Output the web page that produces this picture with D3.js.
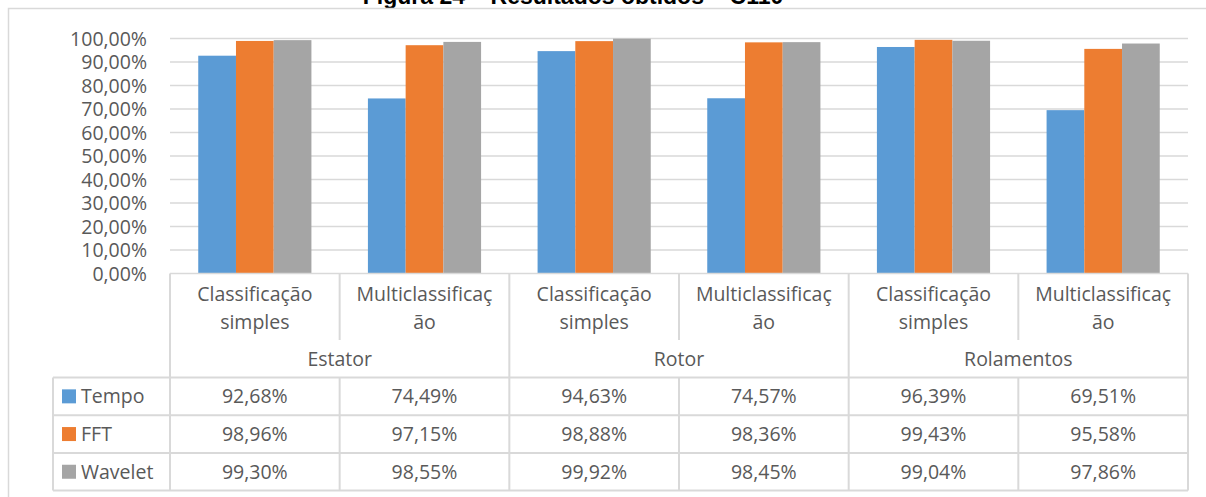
<!DOCTYPE html>
<html>
<head>
<meta charset="utf-8">
<script src="https://cdn.jsdelivr.net/npm/d3@7"></script>
<style>
  html, body { margin: 0; padding: 0; background: #fff; overflow: hidden; }
  svg { display: block; }
  text { font-family: "Open Sans", sans-serif; fill: #595959; }
</style>
</head>
<body>
<svg id="chart" width="1206" height="497"></svg>
<script>
// Accuracy (%) per classification task and feature-extraction method
const categories = ["Classificação simples", "Multiclassificação", "Classificação simples", "Multiclassificação", "Classificação simples", "Multiclassificação"];
const categoryLines = [["Classificação", "simples"], ["Multiclassificaç", "ão"], ["Classificação", "simples"], ["Multiclassificaç", "ão"], ["Classificação", "simples"], ["Multiclassificaç", "ão"]];
const groups = ["Estator", "Rotor", "Rolamentos"];
const seriesNames = ["Tempo", "FFT", "Wavelet"];
const seriesColors = ["#5B9BD5", "#ED7D31", "#A5A5A5"];
const tempo = [92.68, 74.49, 94.63, 74.57, 96.39, 69.51];
const fft = [98.96, 97.15, 98.88, 98.36, 99.43, 95.58];
const wavelet = [99.30, 98.55, 99.92, 98.45, 99.04, 97.86];
const yTicks = [0, 10, 20, 30, 40, 50, 60, 70, 80, 90, 100];
const title = "Figura 24 – Resultados obtidos – C110";

const series = [tempo, fft, wavelet];
const ptBR = d3.formatLocale({ decimal: ",", thousands: ".", grouping: [3], currency: ["", ""] });
const pct = v => ptBR.format(".2f")(v) + "%";

const svg = d3.select("#chart");
const gridColor = "#d9d9d9";

// plot geometry
const plotLeft = 170, plotRight = 1188, plotTop = 38.5, plotBottom = 273.5;
const tableLeft = 53, rowH = 37.7;
const labelRowBottom = 340, dataTop = 377.5;

const x = d3.scaleBand().domain(d3.range(categories.length)).range([plotLeft, plotRight]).padding(0);
const xs = d3.scaleBand().domain(d3.range(series.length))
  .range([x.bandwidth() * 0.1665, x.bandwidth() * 0.8335]).padding(0);
const y = d3.scaleLinear().domain([0, 100]).range([plotBottom, plotTop]);

// title (sits above the chart frame)
svg.append("text")
  .attr("x", 573).attr("y", 4)
  .attr("text-anchor", "middle")
  .style("font-family", "'Liberation Sans', Arial, sans-serif")
  .style("font-weight", "bold")
  .style("font-size", "23px")
  .style("fill", "#000")
  .text(title);

// chart frame
svg.append("rect")
  .attr("x", 8.5).attr("y", 8.5).attr("width", 1230).attr("height", 520)
  .attr("fill", "none").attr("stroke", gridColor).attr("stroke-width", 1.5);

// gridlines and y tick labels
const yAxis = d3.axisLeft(y).tickValues(yTicks).tickSize(0).tickFormat(pct);
const yg = svg.append("g").attr("transform", `translate(${plotLeft - 23},0)`).call(yAxis);
yg.select(".domain").remove();
yg.selectAll("text").attr("x", 0).attr("dy", "0.34em")
  .style("font-family", "'Open Sans', sans-serif").style("font-size", "19.5px").attr("fill", "#595959");

svg.append("g").selectAll("line").data(yTicks.filter(t => t > 0)).join("line")
  .attr("x1", plotLeft).attr("x2", plotRight)
  .attr("y1", d => y(d)).attr("y2", d => y(d))
  .attr("stroke", gridColor).attr("stroke-width", 1.5);

// bars
const barG = svg.append("g");
series.forEach((vals, si) => {
  barG.selectAll(null).data(vals).join("rect")
    .attr("x", (d, i) => x(i) + xs(si))
    .attr("width", xs.bandwidth())
    .attr("y", d => y(d))
    .attr("height", d => y(0) - y(d))
    .attr("fill", seriesColors[si]);
});

// category axis line
svg.append("line").attr("x1", plotLeft).attr("x2", plotRight).attr("y1", plotBottom).attr("y2", plotBottom)
  .attr("stroke", gridColor).attr("stroke-width", 1.5);

// table lines
const tg = svg.append("g").attr("stroke", gridColor).attr("stroke-width", 2);
const tableBottom = dataTop + rowH * 3;
d3.range(categories.length + 1).forEach(i => {
  const xx = i < categories.length ? x(i) : plotRight;
  const groupEdge = i % 2 === 0;
  tg.append("line").attr("x1", xx).attr("x2", xx)
    .attr("y1", plotBottom).attr("y2", groupEdge ? tableBottom : labelRowBottom);
  if (!groupEdge) {
    tg.append("line").attr("x1", xx).attr("x2", xx).attr("y1", dataTop).attr("y2", tableBottom);
  }
});
tg.append("line").attr("x1", tableLeft).attr("x2", tableLeft).attr("y1", dataTop).attr("y2", tableBottom);
d3.range(4).forEach(r => {
  const yy = dataTop + r * rowH;
  tg.append("line").attr("x1", tableLeft).attr("x2", plotRight).attr("y1", yy).attr("y2", yy);
});

// category labels
const fs = "19.5px";
categoryLines.forEach((lines, i) => {
  const t = svg.append("text").attr("text-anchor", "middle").style("font-size", fs);
  lines.forEach((ln, k) => {
    t.append("tspan").attr("x", x(i) + x.bandwidth() / 2).attr("y", 294 + k * 28.5).attr("dy", "0.35em").text(ln);
  });
});
// group labels
groups.forEach((g, gi) => {
  svg.append("text").attr("text-anchor", "middle").style("font-size", fs)
    .attr("x", x(gi * 2) + x.bandwidth()).attr("y", 359).attr("dy", "0.35em").text(g);
});

// data rows with legend keys
series.forEach((vals, si) => {
  const cy = dataTop + rowH * si + rowH / 2;
  svg.append("rect").attr("x", 62).attr("y", cy - 7).attr("width", 14).attr("height", 14)
    .attr("fill", seriesColors[si]);
  svg.append("text").attr("x", 81).attr("y", cy).attr("dy", "0.35em").style("font-size", fs)
    .text(seriesNames[si]);
  vals.forEach((v, i) => {
    svg.append("text").attr("text-anchor", "middle").style("font-size", fs)
      .attr("x", x(i) + x.bandwidth() / 2).attr("y", cy).attr("dy", "0.35em").text(pct(v));
  });
});
</script>
</body>
</html>
